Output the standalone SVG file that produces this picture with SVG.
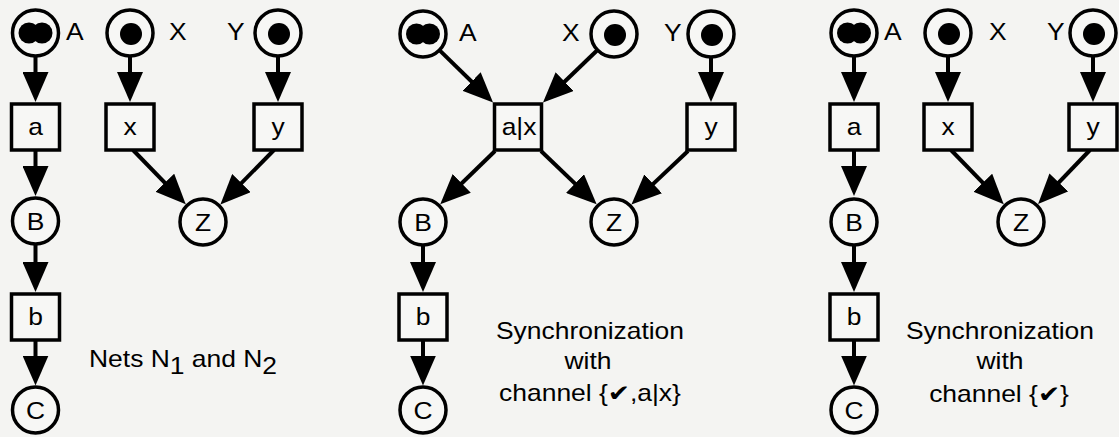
<svg xmlns="http://www.w3.org/2000/svg" width="1119" height="437" viewBox="0 0 1119 437">
<style>
.pl{fill:#f7f7f5;stroke:#000;stroke-width:3.5}
.tk{fill:#000}
.t{font-family:"Liberation Sans",Arial,"DejaVu Sans",sans-serif;font-size:24px;fill:#000}
.c{text-anchor:middle}
.big{font-size:23px}
.arc{stroke:#000;stroke-width:4;fill:none;marker-end:url(#ah)}
</style>
<defs>
<marker id="ah" markerUnits="userSpaceOnUse" markerWidth="30" markerHeight="26" refX="20" refY="13" orient="auto" viewBox="0 0 30 26"><path d="M0,0 L30,13 L0,26 z" fill="#000"/></marker>
</defs>
<rect width="1119" height="437" fill="#f4f4f2"/>
<g id="connectors">
<line class="arc" x1="35.5" y1="56" x2="35.5" y2="92"/>
<line class="arc" x1="35.5" y1="150" x2="35.5" y2="186"/>
<line class="arc" x1="35.5" y1="244" x2="35.5" y2="282"/>
<line class="arc" x1="35.5" y1="340" x2="35.5" y2="375.5"/>
<line class="arc" x1="130" y1="56" x2="130" y2="92"/>
<line class="arc" x1="278" y1="56" x2="278" y2="92"/>
<line class="arc" x1="133" y1="150" x2="178.8" y2="197.1"/>
<line class="arc" x1="274" y1="150" x2="227.4" y2="197.3"/>
<line class="arc" x1="439.4" y1="50.1" x2="485.9" y2="95.5"/>
<line class="arc" x1="597.5" y1="50" x2="550.2" y2="95.5"/>
<line class="arc" x1="495" y1="151" x2="447.4" y2="197.3"/>
<line class="arc" x1="541" y1="151" x2="589.4" y2="197.4"/>
<line class="arc" x1="711" y1="56" x2="711" y2="92"/>
<line class="arc" x1="688" y1="151" x2="638.7" y2="197.6"/>
<line class="arc" x1="423" y1="244" x2="423" y2="282"/>
<line class="arc" x1="423" y1="340" x2="423" y2="375.5"/>
<line class="arc" x1="854" y1="56" x2="854" y2="92"/>
<line class="arc" x1="854" y1="150" x2="854" y2="186"/>
<line class="arc" x1="854" y1="244" x2="854" y2="282"/>
<line class="arc" x1="854" y1="340" x2="854" y2="375.5"/>
<line class="arc" x1="948" y1="56" x2="948" y2="92"/>
<line class="arc" x1="1093" y1="56" x2="1093" y2="92"/>
<line class="arc" x1="951" y1="150" x2="996.8" y2="197.1"/>
<line class="arc" x1="1090" y1="150" x2="1045" y2="196.9"/>
</g>
<g id="p1-A"><circle class="pl" cx="35.5" cy="33" r="23"/><circle class="tk" cx="29" cy="33" r="10.5"/><circle class="tk" cx="42" cy="33" r="10.5"/><text class="t" transform="translate(66,40) scale(1.1,1)">A</text></g>
<g id="p1-X"><circle class="pl" cx="130" cy="33" r="23"/><circle class="tk" cx="131" cy="34" r="11"/><text class="t" transform="translate(169,40) scale(1.1,1)">X</text></g>
<g id="p1-Y"><circle class="pl" cx="278" cy="33" r="23"/><circle class="tk" cx="279" cy="34" r="11"/><text class="t" transform="translate(227,40) scale(1.1,1)">Y</text></g>
<g id="p1-a"><rect class="pl" x="11.5" y="104" width="48" height="46"/><text class="t c" transform="translate(35.5,135) scale(1.1,1)">a</text></g>
<g id="p1-x"><rect class="pl" x="106" y="104" width="48" height="46"/><text class="t c" transform="translate(130,135) scale(1.1,1)">x</text></g>
<g id="p1-y"><rect class="pl" x="254" y="104" width="48" height="46"/><text class="t c" transform="translate(278,135) scale(1.1,1)">y</text></g>
<g id="p1-B"><circle class="pl" cx="35.5" cy="221" r="23"/><text class="t c" transform="translate(35.5,229.5) scale(1.1,1)">B</text></g>
<g id="p1-Z"><circle class="pl" cx="203" cy="222" r="23"/><text class="t c" transform="translate(203,230.5) scale(1.1,1)">Z</text></g>
<g id="p1-b"><rect class="pl" x="11.5" y="294" width="48" height="46"/><text class="t c" transform="translate(35.5,325) scale(1.1,1)">b</text></g>
<g id="p1-C"><circle class="pl" cx="35.5" cy="410" r="23"/><text class="t c" transform="translate(35.5,418.5) scale(1.1,1)">C</text></g>
<text class="t big" transform="translate(89,367) scale(1.15,1)">Nets N<tspan dy="7">1</tspan><tspan dy="-7"> and N</tspan><tspan dy="7">2</tspan></text>
<g id="p2-A"><circle class="pl" cx="423" cy="34" r="23"/><circle class="tk" cx="416.5" cy="34" r="10.5"/><circle class="tk" cx="429.5" cy="34" r="10.5"/><text class="t" transform="translate(459,41) scale(1.1,1)">A</text></g>
<g id="p2-X"><circle class="pl" cx="614" cy="34" r="23"/><circle class="tk" cx="615" cy="35" r="11"/><text class="t" transform="translate(562,41) scale(1.1,1)">X</text></g>
<g id="p2-Y"><circle class="pl" cx="711" cy="34" r="23"/><circle class="tk" cx="712" cy="35" r="11"/><text class="t" transform="translate(664,41) scale(1.1,1)">Y</text></g>
<g id="p2-ax"><rect class="pl" x="494.5" y="104" width="47" height="46"/><text class="t c" transform="translate(519,135) scale(1.1,1)">a|x</text></g>
<g id="p2-y"><rect class="pl" x="687" y="104" width="48" height="46"/><text class="t c" transform="translate(711,135) scale(1.1,1)">y</text></g>
<g id="p2-B"><circle class="pl" cx="423" cy="222" r="23"/><text class="t c" transform="translate(423,230.5) scale(1.1,1)">B</text></g>
<g id="p2-Z"><circle class="pl" cx="614" cy="222" r="23"/><text class="t c" transform="translate(614,230.5) scale(1.1,1)">Z</text></g>
<g id="p2-b"><rect class="pl" x="399" y="294" width="48" height="46"/><text class="t c" transform="translate(423,325) scale(1.1,1)">b</text></g>
<g id="p2-C"><circle class="pl" cx="423" cy="410" r="23"/><text class="t c" transform="translate(423,418.5) scale(1.1,1)">C</text></g>
<text class="t big c" transform="translate(590,339) scale(1.15,1)">Synchronization</text>
<text class="t big c" transform="translate(588,369) scale(1.15,1)">with</text>
<text class="t big c" transform="translate(590,401) scale(1.15,1)">channel {✔,a|x}</text>
<g id="p3-A"><circle class="pl" cx="854" cy="33" r="23"/><circle class="tk" cx="847.5" cy="33" r="10.5"/><circle class="tk" cx="860.5" cy="33" r="10.5"/><text class="t" transform="translate(884,40) scale(1.1,1)">A</text></g>
<g id="p3-X"><circle class="pl" cx="948" cy="33" r="23"/><circle class="tk" cx="949" cy="34" r="11"/><text class="t" transform="translate(989,40) scale(1.1,1)">X</text></g>
<g id="p3-Y"><circle class="pl" cx="1093" cy="33" r="23"/><circle class="tk" cx="1094" cy="34" r="11"/><text class="t" transform="translate(1047,40) scale(1.1,1)">Y</text></g>
<g id="p3-a"><rect class="pl" x="830" y="104" width="48" height="46"/><text class="t c" transform="translate(854,135) scale(1.1,1)">a</text></g>
<g id="p3-x"><rect class="pl" x="924" y="104" width="48" height="46"/><text class="t c" transform="translate(948,135) scale(1.1,1)">x</text></g>
<g id="p3-y"><rect class="pl" x="1069" y="104" width="48" height="46"/><text class="t c" transform="translate(1093,135) scale(1.1,1)">y</text></g>
<g id="p3-B"><circle class="pl" cx="854" cy="222" r="23"/><text class="t c" transform="translate(854,230.5) scale(1.1,1)">B</text></g>
<g id="p3-Z"><circle class="pl" cx="1021" cy="222" r="23"/><text class="t c" transform="translate(1021,230.5) scale(1.1,1)">Z</text></g>
<g id="p3-b"><rect class="pl" x="830" y="294" width="48" height="46"/><text class="t c" transform="translate(854,325) scale(1.1,1)">b</text></g>
<g id="p3-C"><circle class="pl" cx="854" cy="410" r="23"/><text class="t c" transform="translate(854,418.5) scale(1.1,1)">C</text></g>
<text class="t big c" transform="translate(1000,339) scale(1.15,1)">Synchronization</text>
<text class="t big c" transform="translate(1000,369) scale(1.15,1)">with</text>
<text class="t big c" transform="translate(999,402) scale(1.15,1)">channel {✔}</text>
</svg>
